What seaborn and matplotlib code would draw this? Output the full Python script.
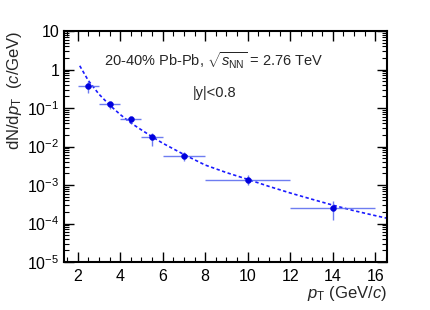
import numpy as np
import pandas as pd
import matplotlib
matplotlib.use("Agg")
import matplotlib.pyplot as plt
import seaborn as sns
from matplotlib.ticker import FixedLocator, FixedFormatter, MultipleLocator, NullFormatter

# ---- data ----
pt = [2.5, 3.5, 4.5, 5.5, 7.0, 10.0, 14.0]
pt_err = [0.5, 0.5, 0.5, 0.5, 1.0, 2.0, 2.0]
yield_val = [0.366, 0.125, 0.0508, 0.0173, 0.00578, 0.00137, 0.000253]
yerr_low = [0.12, 0.033, 0.009, 0.007, 0.0017, 0.00037, 0.00013]
yerr_high = [0.14, 0.021, 0.009, 0.005, 0.0016, 0.00045, 0.00012]

fit_pt = [2.1, 2.5, 3.0, 3.5, 4.0, 4.5, 5.0, 5.5, 6.0, 7.0, 8.0, 9.0, 10.0,
          11.0, 12.0, 13.0, 14.0, 15.0, 16.0, 16.55]
fit_val = [1.25, 0.52, 0.23, 0.12, 0.068, 0.041, 0.027, 0.018, 0.0122, 0.0062,
           0.0033, 0.0021, 0.00140, 0.00092, 0.00062, 0.00043, 0.00030,
           0.000215, 0.000160, 0.000137]

ytick_vals = [1e-5, 1e-4, 1e-3, 1e-2, 1e-1, 1, 10]
ytick_labels = [r"$\mathregular{10^{-5}}$", r"$\mathregular{10^{-4}}$",
                r"$\mathregular{10^{-3}}$", r"$\mathregular{10^{-2}}$",
                r"$\mathregular{10^{-1}}$", "1", "10"]
xtick_vals = [2, 4, 6, 8, 10, 12, 14, 16]

sns.set_style("ticks")
plt.rcParams['font.family'] = ['Liberation Sans', 'DejaVu Sans']
plt.rcParams['mathtext.fontset'] = 'custom'
plt.rcParams['mathtext.rm'] = 'Liberation Sans'
plt.rcParams['mathtext.it'] = 'Liberation Sans:italic'
plt.rcParams['mathtext.bf'] = 'Liberation Sans:bold'

fig = plt.figure(figsize=(4.3, 3.1), dpi=100)
ax = fig.add_axes([64/430, 1-262/310, (387-64)/430, (262-31)/310])

df_fit = pd.DataFrame({"pt": fit_pt, "y": fit_val})
df_pts = pd.DataFrame({"pt": pt, "y": yield_val})

sns.lineplot(data=df_fit, x="pt", y="y", ax=ax, color="#1a1aff",
             linestyle=(0, (2, 1.5)), linewidth=1.2)
ax.errorbar(pt, yield_val, xerr=pt_err, yerr=[yerr_low, yerr_high],
            fmt="none", ecolor="#5566ee", elinewidth=1.0, alpha=0.85, zorder=3)
sns.scatterplot(data=df_pts, x="pt", y="y", ax=ax, color="#0000dd",
                marker="o", s=18, edgecolor="#0000dd", zorder=4)

ax.set_yscale("log")
ax.set_xlim(1.36, 16.55)
ax.set_ylim(1e-5, 10)

ax.yaxis.set_major_locator(FixedLocator(ytick_vals))
ax.yaxis.set_major_formatter(FixedFormatter(ytick_labels))
ax.yaxis.set_minor_locator(matplotlib.ticker.LogLocator(base=10, subs=np.arange(2, 10)))
ax.yaxis.set_minor_formatter(NullFormatter())
ax.xaxis.set_major_locator(FixedLocator(xtick_vals))
ax.xaxis.set_minor_locator(MultipleLocator(0.5))

ax.tick_params(which="both", direction="in", top=True, right=True, colors="black",
               labelsize=11.5)
ax.tick_params(which="major", length=7, width=1)
ax.tick_params(which="minor", length=3.5, width=0.8)
ax.tick_params(axis="x", which="major", pad=5)
for s in ax.spines.values():
    s.set_linewidth(1.5)
    s.set_color("black")

ax.set_xlabel(r"$p_{\mathrm{T}}$ (GeV/$c$)", fontsize=12, loc="right", labelpad=0)
ax.set_ylabel(r"dN/d$p_{\mathrm{T}}$  ($c$/GeV)", fontsize=12, loc="top", labelpad=2)

ax.text(0.465, 0.87, r"20-40% Pb-Pb, $\sqrt{s_{\mathrm{NN}}}$ = 2.76 TeV",
        transform=ax.transAxes, ha="center", va="center", fontsize=10.5)
ax.text(0.467, 0.73, "|y|<0.8", transform=ax.transAxes, ha="center",
        va="center", fontsize=10.5)

fig.savefig("out.png", dpi=100)
